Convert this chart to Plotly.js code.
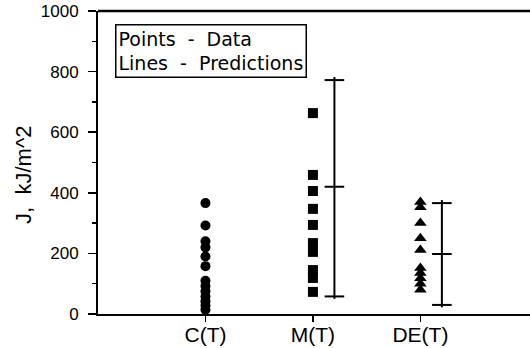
<!DOCTYPE html>
<html>
<head>
<meta charset="utf-8">
<script src="https://cdn.plot.ly/plotly-3.0.1.min.js"></script>
<style>html,body{margin:0;padding:0;background:#fff;overflow:hidden;}#chart{width:530px;height:348px;}</style>
</head>
<body>
<div id="chart"></div>
<script>
// ---- data ----
var categories = ['C(T)', 'M(T)', 'DE(T)'];
var dataC  = [366, 292, 240, 220, 190, 158, 110, 92, 75, 58, 42, 28, 14];
var dataM  = [663, 459, 406, 347, 294, 234, 205, 145, 119, 73];
var dataDE = [370, 352, 300, 250, 211, 152, 135, 118, 100, 80];
// predictions: [low, mid, high] for M(T) and DE(T)
var predM  = [58, 420, 772];
var predDE = [30, 198, 366];
var yTicks = [0, 200, 400, 600, 800, 1000];

// ---- style ----
var predOffset = 0.2;
var black = '#000';

function repeatX(pos, n) { var a = []; for (var i = 0; i < n; i++) a.push(pos); return a; }

var traces = [];
var seriesData = [dataC, dataM, dataDE];
var symbols = ['circle', 'square', 'triangle-up'];
var sizes = [10, 10, 11];
seriesData.forEach(function (vals, i) {
  traces.push({
    type: 'scatter', mode: 'markers', name: categories[i] + ' data',
    x: repeatX(i + 1, vals.length), y: vals,
    marker: {symbol: symbols[i], size: sizes[i], color: black, line: {width: 0}},
    hoverinfo: 'y', showlegend: false, cliponaxis: false
  });
});

[[1, predM], [2, predDE]].forEach(function (p) {
  var xpos = p[0] + 1 + predOffset;
  var vals = p[1];
  traces.push({
    type: 'scatter', mode: 'lines', name: categories[p[0]] + ' prediction',
    x: [xpos, xpos], y: [vals[0] - 8, vals[2] + 10],
    line: {color: black, width: 2}, hoverinfo: 'skip', showlegend: false
  });
  traces.push({
    type: 'scatter', mode: 'markers', name: categories[p[0]] + ' prediction marks',
    x: repeatX(xpos, vals.length), y: vals,
    marker: {symbol: 'line-ew', size: 14, line: {color: black, width: 2}},
    hoverinfo: 'y', showlegend: false
  });
});

var layout = {
  width: 530, height: 348,
  margin: {l: 98, r: 0, t: 11, b: 34, pad: 0},
  paper_bgcolor: '#fff', plot_bgcolor: '#fff',
  font: {family: 'Liberation Sans, Arial, sans-serif', color: black},
  xaxis: {
    range: [0, 4.02], tickvals: [1, 2, 3], ticktext: categories,
    showgrid: false, zeroline: false,
    showline: true, linecolor: black, linewidth: 2, mirror: false,
    ticks: 'outside', ticklen: 6, tickwidth: 1.5, tickcolor: black,
    ticklabelstandoff: -5,
    tickfont: {size: 21, family: 'Liberation Sans, Arial, sans-serif'}
  },
  yaxis: {
    range: [0, 1000], tickvals: yTicks,
    showgrid: false, zeroline: false,
    showline: true, linecolor: black, linewidth: 2,
    ticks: 'outside', ticklen: 8, tickwidth: 1.5, tickcolor: black,
    ticklabelstandoff: 6,
    tickfont: {size: 17, family: 'Liberation Sans, Arial, sans-serif'},
    minor: {dtick: 100, ticks: 'outside', ticklen: 4, tickwidth: 1.5, tickcolor: black},
    title: {text: 'J,  kJ/m^2&nbsp;&nbsp;&nbsp;&nbsp;', font: {size: 22, family: 'Liberation Sans, Arial, sans-serif'}, standoff: 3},
    automargin: false
  },
  shapes: [{
    type: 'line', xref: 'paper', yref: 'paper', x0: 0, x1: 1, y0: 1, y1: 1,
    line: {color: black, width: 2.5}
  }],
  annotations: [{
    xref: 'paper', yref: 'paper', x: 0.04, y: 0.957, xanchor: 'left', yanchor: 'top',
    text: 'Points&nbsp;&nbsp;-&nbsp;&nbsp;Data<br>Lines&nbsp;&nbsp;-&nbsp;&nbsp;Predictions',
    align: 'left', showarrow: false,
    font: {size: 19, family: 'DejaVu Sans, sans-serif', color: black},
    bordercolor: black, borderwidth: 1.5, borderpad: 2, bgcolor: '#fff'
  }]
};

Plotly.newPlot('chart', traces, layout, {displayModeBar: false, staticPlot: true});
</script>
</body>
</html>
